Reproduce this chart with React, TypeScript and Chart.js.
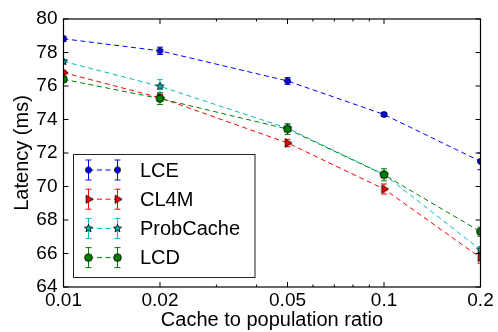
import React, { useEffect, useRef } from 'react';
import { Chart, registerables } from 'chart.js';

Chart.register(...registerables);

const FONT = "'Liberation Sans', Arial, Helvetica, sans-serif";

// ---- data ----
const ratios = [0.01, 0.02, 0.05, 0.1, 0.2];
const xTickLabels = ['0.01', '0.02', '0.05', '0.1', '0.2'];
const xMinorTicks = [0.03, 0.04, 0.06, 0.07, 0.08, 0.09];
const yTickValues = [64, 66, 68, 70, 72, 74, 76, 78, 80];

const seriesNames = ['LCE', 'CL4M', 'ProbCache', 'LCD'];
const lceLatency = [78.82, 78.1, 76.3, 74.3, 71.5];
const lceError = [0.15, 0.22, 0.2, 0.12, 0.5];
const cl4mLatency = [76.8, 75.3, 72.6, 69.85, 65.75];
const cl4mError = [0.15, 0.2, 0.22, 0.3, 0.33];
const probCacheLatency = [77.47, 75.98, 73.48, 70.72, 66.22];
const probCacheError = [0.1, 0.4, 0.2, 0.2, 0.2];
const lcdLatency = [76.4, 75.25, 73.43, 70.7, 67.3];
const lcdError = [0.15, 0.35, 0.32, 0.36, 0.27];

const seriesColors = ['#0000ff', '#ff0000', '#00bfbf', '#008000'];
const seriesMarkers = ['circleSmall', 'triangleRight', 'star', 'circleBig'];

const latencies = [lceLatency, cl4mLatency, probCacheLatency, lcdLatency];
const errors = [lceError, cl4mError, probCacheError, lcdError];

function makeMarker(kind: string, fill: string): HTMLCanvasElement {
  const size = 13;
  const c = document.createElement('canvas');
  c.width = size;
  c.height = size;
  const ctx = c.getContext('2d')!;
  const cx = size / 2;
  const cy = size / 2;
  ctx.fillStyle = fill;
  ctx.strokeStyle = '#000';
  ctx.lineWidth = 0.9;
  ctx.beginPath();
  if (kind === 'circleSmall') {
    ctx.arc(cx, cy, 3, 0, Math.PI * 2);
  } else if (kind === 'circleBig') {
    ctx.arc(cx, cy, 3.8, 0, Math.PI * 2);
  } else if (kind === 'triangleRight') {
    const r = 4.6;
    ctx.moveTo(cx + r, cy);
    ctx.lineTo(cx - r * 0.5, cy - r * 0.87);
    ctx.lineTo(cx - r * 0.5, cy + r * 0.87);
    ctx.closePath();
  } else {
    const ro = 4.2;
    const ri = 1.8;
    for (let i = 0; i < 10; i++) {
      const a = -Math.PI / 2 + (i * Math.PI) / 5;
      const r = i % 2 === 0 ? ro : ri;
      const px = cx + r * Math.cos(a);
      const py = cy + r * Math.sin(a);
      if (i === 0) ctx.moveTo(px, py);
      else ctx.lineTo(px, py);
    }
    ctx.closePath();
  }
  ctx.fill();
  ctx.stroke();
  return c;
}

const DASH = [5, 3.5];

export default function App() {
  const ref = useRef<HTMLCanvasElement>(null);

  useEffect(() => {
    const canvas = ref.current!;
    const markers = seriesColors.map((col, i) => makeMarker(seriesMarkers[i], col));

    const overlay = {
      id: 'overlay',
      beforeDatasetsDraw(chart: any) {
        const { ctx, chartArea } = chart;
        const xs = chart.scales.x;
        const ys = chart.scales.y;
        ctx.save();
        ctx.beginPath();
        ctx.rect(chartArea.left, chartArea.top, chartArea.right - chartArea.left, chartArea.bottom - chartArea.top);
        ctx.clip();
        ctx.lineWidth = 1;
        latencies.forEach((vals, si) => {
          ctx.strokeStyle = seriesColors[si];
          vals.forEach((v, j) => {
            const x = xs.getPixelForValue(ratios[j]);
            const y1 = ys.getPixelForValue(v - errors[si][j]);
            const y2 = ys.getPixelForValue(v + errors[si][j]);
            ctx.beginPath();
            ctx.moveTo(x, y1);
            ctx.lineTo(x, y2);
            ctx.moveTo(x - 3, y1);
            ctx.lineTo(x + 3, y1);
            ctx.moveTo(x - 3, y2);
            ctx.lineTo(x + 3, y2);
            ctx.stroke();
          });
        });
        ctx.restore();
      },
      afterDatasetsDraw(chart: any) {
        const { ctx, chartArea } = chart;
        const { left, right, top, bottom } = chartArea;
        const xs = chart.scales.x;
        const ys = chart.scales.y;
        ctx.save();
        // frame
        ctx.strokeStyle = '#000';
        ctx.lineWidth = 1.2;
        ctx.setLineDash([]);
        ctx.strokeRect(left, top, right - left, bottom - top);
        // inward ticks
        ctx.lineWidth = 1;
        ctx.beginPath();
        yTickValues.forEach((v) => {
          const y = ys.getPixelForValue(v);
          ctx.moveTo(left, y);
          ctx.lineTo(left + 5, y);
          ctx.moveTo(right, y);
          ctx.lineTo(right - 5, y);
        });
        ratios.forEach((v) => {
          const x = xs.getPixelForValue(v);
          ctx.moveTo(x, bottom);
          ctx.lineTo(x, bottom - 5);
          ctx.moveTo(x, top);
          ctx.lineTo(x, top + 5);
        });
        xMinorTicks.forEach((v) => {
          const x = xs.getPixelForValue(v);
          ctx.moveTo(x, bottom);
          ctx.lineTo(x, bottom - 2.5);
          ctx.moveTo(x, top);
          ctx.lineTo(x, top + 2.5);
        });
        ctx.stroke();

        // legend
        const bx = 73.5;
        const by = 154.5;
        const bw = 181.5;
        const bh = 123;
        ctx.fillStyle = '#fff';
        ctx.fillRect(bx, by, bw, bh);
        ctx.strokeStyle = '#222';
        ctx.lineWidth = 1;
        ctx.strokeRect(bx, by, bw, bh);
        const mx1 = 88.5;
        const mx2 = 117.5;
        seriesNames.forEach((name, i) => {
          const y = 170 + i * 29.2;
          ctx.strokeStyle = seriesColors[i];
          ctx.lineWidth = 1;
          ctx.setLineDash(DASH);
          ctx.beginPath();
          ctx.moveTo(mx1, y);
          ctx.lineTo(mx2, y);
          ctx.stroke();
          ctx.setLineDash([]);
          [mx1, mx2].forEach((mx) => {
            ctx.beginPath();
            ctx.moveTo(mx, y - 10);
            ctx.lineTo(mx, y + 10);
            ctx.moveTo(mx - 3, y - 10);
            ctx.lineTo(mx + 3, y - 10);
            ctx.moveTo(mx - 3, y + 10);
            ctx.lineTo(mx + 3, y + 10);
            ctx.stroke();
            const m = markers[i];
            ctx.drawImage(m, mx - m.width / 2, y - m.height / 2);
          });
          ctx.fillStyle = '#000';
          ctx.font = `20px ${FONT}`;
          ctx.textBaseline = 'middle';
          ctx.textAlign = 'left';
          ctx.fillText(name, 140, y + 1);
        });
        ctx.restore();
      },
    };

    const chart = new Chart(canvas, {
      type: 'line',
      data: {
        datasets: latencies.map((vals, i) => ({
          label: seriesNames[i],
          data: vals.map((v, j) => ({ x: ratios[j], y: v })),
          borderColor: seriesColors[i],
          backgroundColor: seriesColors[i],
          borderWidth: 1,
          borderDash: DASH,
          pointStyle: markers[i] as any,
          pointRadius: 4,
          fill: false,
          tension: 0,
          clip: 0,
          order: 3 - i,
        })),
      },
      options: {
        animation: false,
        responsive: false,
        devicePixelRatio: 1,
        layout: { padding: { top: 19, right: 17.5, left: 0, bottom: 0 } },
        plugins: { legend: { display: false }, tooltip: { enabled: false } },
        scales: {
          x: {
            type: 'logarithmic',
            min: 0.01,
            max: 0.2,
            afterBuildTicks: (s: any) => {
              s.ticks = ratios.map((v) => ({ value: v }));
            },
            afterFit: (s: any) => {
              s.height = 45;
            },
            grid: { display: false, drawTicks: false },
            border: { display: false },
            ticks: {
              autoSkip: false,
              maxRotation: 0,
              minRotation: 0,
              padding: 2,
              color: '#000',
              font: { family: FONT, size: 19 },
              callback: (_v: any, idx: number) => xTickLabels[idx],
            },
            title: {
              display: true,
              text: 'Cache to population ratio',
              color: '#000',
              font: { family: FONT, size: 20 },
              padding: 0,
            },
          },
          y: {
            type: 'linear',
            min: 64,
            max: 80,
            afterBuildTicks: (s: any) => {
              s.ticks = yTickValues.map((v) => ({ value: v }));
            },
            afterFit: (s: any) => {
              s.width = 63.5;
            },
            grid: { display: false, drawTicks: false },
            border: { display: false },
            ticks: {
              padding: 6,
              color: '#000',
              font: { family: FONT, size: 19 },
              callback: (v: any) => String(v),
            },
            title: {
              display: true,
              text: 'Latency (ms)',
              color: '#000',
              font: { family: FONT, size: 20 },
              padding: { top: 10, bottom: 0 },
            },
          },
        },
      },
      plugins: [overlay],
    } as any);

    return () => chart.destroy();
  }, []);

  return (
    <div style={{ position: 'fixed', left: 0, top: 0, width: 498, height: 332, background: '#fff' }}>
      <canvas ref={ref} width={498} height={332} style={{ display: 'block', width: 498, height: 332 }} />
    </div>
  );
}
